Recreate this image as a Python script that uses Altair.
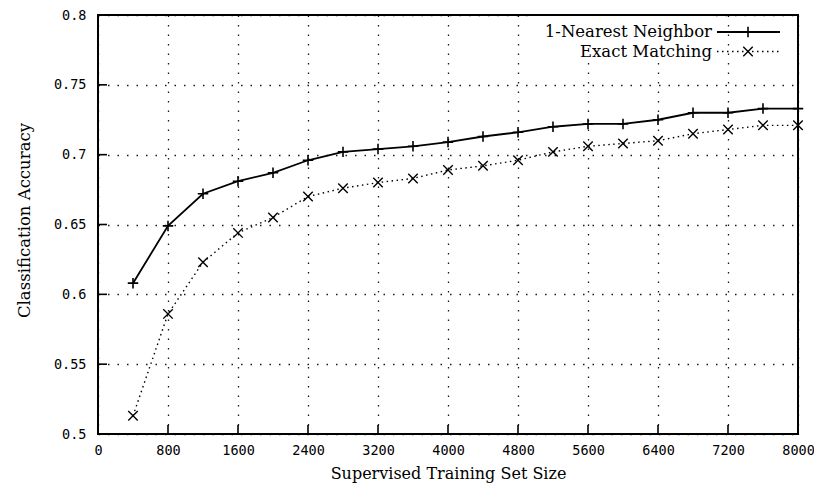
import altair as alt
import pandas as pd

sizes = [400, 800, 1200, 1600, 2000, 2400, 2800, 3200, 3600, 4000,
         4400, 4800, 5200, 5600, 6000, 6400, 6800, 7200, 7600, 8000]
nn_acc = [0.608, 0.649, 0.672, 0.681, 0.687, 0.696, 0.702, 0.704, 0.706, 0.709,
          0.713, 0.716, 0.720, 0.722, 0.722, 0.725, 0.730, 0.730, 0.733, 0.733]
em_acc = [0.513, 0.586, 0.623, 0.644, 0.655, 0.670, 0.676, 0.680, 0.683, 0.689,
          0.692, 0.696, 0.702, 0.706, 0.708, 0.710, 0.715, 0.718, 0.721, 0.721]
series_names = ["1-Nearest Neighbor", "Exact Matching"]
x_ticks = [0, 800, 1600, 2400, 3200, 4000, 4800, 5600, 6400, 7200, 8000]
y_ticks = [0.5, 0.55, 0.6, 0.65, 0.7, 0.75, 0.8]

W, H = 700, 419
TITLE_FONT = "DejaVu Serif"
LABEL_FONT = "DejaVu Sans Mono"

nn_df = pd.DataFrame({"size": sizes, "acc": nn_acc})
em_df = pd.DataFrame({"size": sizes, "acc": em_acc})

xs = alt.Scale(domain=[0, 8000], nice=False, zero=False)
ys = alt.Scale(domain=[0.5, 0.8], nice=False, zero=False)

PLUS = "M-1,0H1M0,-1V1"
CROSS = "M-1,-1L1,1M-1,1L1,-1"

x_enc = alt.X("size:Q", scale=xs, axis=alt.Axis(
    values=x_ticks, format="d", title="Supervised Training Set Size",
    titleX=350, titleY=39, titleBaseline="middle", titleAlign="center",
    titleFontSize=16,
    labelPadding=9, tickSize=0, ticks=False, domain=False,
    grid=True, gridDash=[1.5, 8], gridColor="#000", gridWidth=1.3, gridOpacity=0.9,
    labelFlush=False))
y_enc = alt.Y("acc:Q", scale=ys, axis=alt.Axis(
    values=y_ticks, format=".2~f", title="Classification Accuracy",
    titleX=-74, titleY=205, titleBaseline="middle", titleAlign="center", titleAngle=-90,
    titleFontSize=16.5,
    labelPadding=12, tickSize=0, ticks=False, domain=False,
    grid=True, gridDash=[1.5, 8], gridColor="#000", gridWidth=1.3, gridOpacity=0.9,
    labelFlush=False))

# blank area behind legend text (gridlines are hidden there)
blank_df = pd.DataFrame({"label": ["key"]})
key_blank = alt.Chart(blank_df).mark_rect(color="white").encode(
    x=alt.value(434), x2=alt.value(618), y=alt.value(1), y2=alt.value(44))

nn_line = alt.Chart(nn_df).mark_line(color="black", strokeWidth=1.8).encode(x=x_enc, y=y_enc)
nn_pts = alt.Chart(nn_df).mark_point(shape=PLUS, size=110, filled=False, color="black",
                                     strokeWidth=1.6, opacity=1).encode(x="size:Q", y="acc:Q")
em_line = alt.Chart(em_df).mark_line(color="black", strokeWidth=1.4,
                                     strokeDash=[1.5, 3.5]).encode(x="size:Q", y="acc:Q")
em_pts = alt.Chart(em_df).mark_point(shape=CROSS, size=90, filled=False, color="black",
                                     strokeWidth=1.4, opacity=1).encode(x="size:Q", y="acc:Q")

# inward ticks
xt_df = pd.DataFrame({"size": x_ticks})
yt_df = pd.DataFrame({"acc": y_ticks})
x_tick_marks = alt.Chart(xt_df).mark_rule(color="black", strokeWidth=1.6).encode(
    x="size:Q", y=alt.value(H), y2=alt.value(H - 9))
y_tick_marks = alt.Chart(yt_df).mark_rule(color="black", strokeWidth=1.6).encode(
    y="acc:Q", x=alt.value(0), x2=alt.value(9))

# legend (label left of sample, as in gnuplot)
one = pd.DataFrame({"label": [series_names[0]]})
two = pd.DataFrame({"label": [series_names[1]]})
LX_TEXT, LX1, LX2, LXM = 614, 619, 682, 650
LY1, LY2 = 17, 36.5
leg_t1 = alt.Chart(one).mark_text(align="right", baseline="middle", font=TITLE_FONT,
                                  fontSize=16.5, color="black").encode(
    x=alt.value(LX_TEXT), y=alt.value(LY1), text="label:N")
leg_t2 = alt.Chart(two).mark_text(align="right", baseline="middle", font=TITLE_FONT,
                                  fontSize=16.5, color="black").encode(
    x=alt.value(LX_TEXT), y=alt.value(LY2), text="label:N")
leg_l1 = alt.Chart(one).mark_rule(color="black", strokeWidth=1.8).encode(
    x=alt.value(LX1), x2=alt.value(LX2), y=alt.value(LY1))
leg_l2 = alt.Chart(two).mark_rule(color="black", strokeWidth=1.4, strokeDash=[1.5, 3.5]).encode(
    x=alt.value(LX1), x2=alt.value(LX2), y=alt.value(LY2))
leg_p1 = alt.Chart(one).mark_point(shape=PLUS, size=110, filled=False, color="black",
                                   strokeWidth=1.6, opacity=1).encode(
    x=alt.value(LXM), y=alt.value(LY1))
leg_p2 = alt.Chart(two).mark_point(shape=CROSS, size=90, filled=False, color="black",
                                   strokeWidth=1.4, opacity=1).encode(
    x=alt.value(LXM), y=alt.value(LY2))

chart = alt.layer(
    nn_line, key_blank, x_tick_marks, y_tick_marks, em_line, nn_pts, em_pts,
    leg_t1, leg_t2, leg_l1, leg_l2, leg_p1, leg_p2
).properties(
    width=W, height=H,
    autosize=alt.AutoSizeParams(type="none"),
    padding={"left": 90, "top": 7, "right": 16, "bottom": 50},
    background="white",
).configure_view(
    stroke="black", strokeWidth=2
).configure_axis(
    labelFont=LABEL_FONT, labelFontSize=13.5, labelColor="black",
    titleFont=TITLE_FONT, titleColor="black", titleFontWeight="normal",
)

chart.save("out.html", embed_options={"renderer": "svg", "actions": False})
